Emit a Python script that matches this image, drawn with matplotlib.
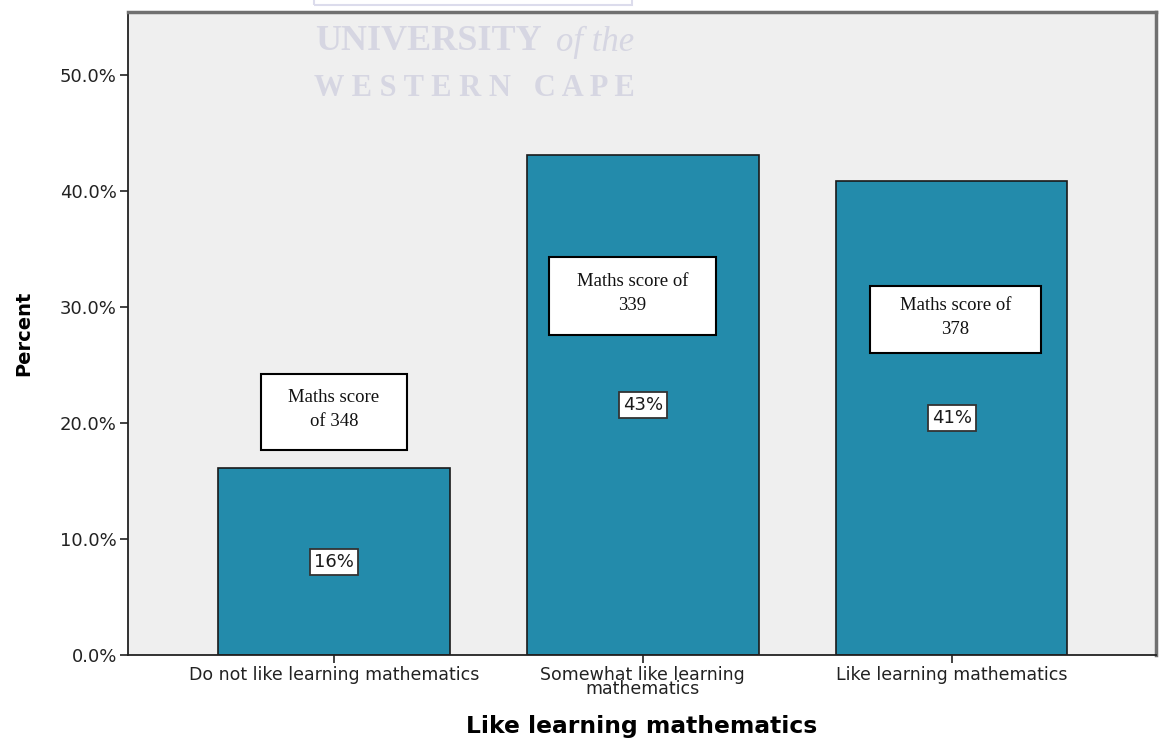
import matplotlib.pyplot as plt
from matplotlib.patches import Rectangle
import numpy as np

categories = ["Do not like learning mathematics", "Somewhat like learning\nmathematics", "Like learning mathematics"]
percents = [16.1, 43.1, 40.8]
pct_labels = ["16%", "43%", "41%"]
score_labels = ["Maths score\nof 348", "Maths score of\n339", "Maths score of\n378"]
score_pos = [(0.0, 20.95), (0.967, 30.95), (2.013, 28.9)]
yticks = [0, 10, 20, 30, 40, 50]

fig = plt.figure(figsize=(11.63, 7.39), dpi=100)
ax = fig.add_axes([128 / 1163, 1 - 655 / 739, 1028 / 1163, 643 / 739])
ax.set_facecolor("#efefef")

x = np.arange(len(categories))
ax.bar(x, percents, width=0.75, color="#238bab", edgecolor="#1a1a1a", linewidth=1.2, zorder=2)

ax.set_xlim(-0.667, 2.662)
ax.set_ylim(0, 55.4)
ax.set_yticks(yticks)
ax.set_yticklabels(["%.1f%%" % v for v in yticks], fontsize=13, color="#222222")
ax.set_xticks(x)
ax.set_xticklabels(categories, fontsize=12.5, color="#222222", linespacing=0.72)
ax.tick_params(axis="both", length=6, width=1.2, color="#222222", pad=2)

for s in ["top", "right"]:
    ax.spines[s].set_color("#707070")
    ax.spines[s].set_linewidth(2.5)
for s in ["left", "bottom"]:
    ax.spines[s].set_color("#222222")
    ax.spines[s].set_linewidth(1.3)

ax.set_ylabel("Percent", fontsize=14, fontweight="bold")
ax.yaxis.set_label_coords(-0.0924, 0.5)
ax.set_xlabel("Like learning mathematics", fontsize=16.8, fontweight="bold")
ax.xaxis.set_label_coords(0.5, -0.094)

# percentage labels in middle of bars
for xi, p, lab in zip(x, percents, pct_labels):
    ax.text(xi, p / 2, lab, ha="center", va="center", fontsize=13, zorder=4, color="#1a1a1a",
            bbox=dict(boxstyle="square,pad=0.22", fc="white", ec="#333333", lw=1.3))

# score annotation boxes
box_sizes = [(0.473, 6.55), (0.541, 6.7), (0.554, 5.7)]
for (bx, by), (bw, bh), lab in zip(score_pos, box_sizes, score_labels):
    ax.add_patch(Rectangle((bx - bw / 2, by - bh / 2), bw, bh, fc="white", ec="black", lw=1.5, zorder=3))
    ax.text(bx, by + 0.2, lab, ha="center", va="center", fontsize=13.5, family="Liberation Serif",
            linespacing=1.55, zorder=4, color="#111111")

# watermark
wm = "#d6d6e2"
fig.text(315 / 1163, 1 - 42 / 739, "UNIVERSITY", ha="left", va="center", fontsize=26,
         family="Liberation Serif", fontweight="bold", color=wm)
fig.text(634 / 1163, 1 - 42 / 739, "of the", ha="right", va="center", fontsize=25,
         family="Liberation Serif", style="italic", color=wm)
fig.text(474 / 1163, 1 - 89 / 739, "W E S T E R N   C A P E", ha="center", va="center", fontsize=22,
         family="Liberation Serif", fontweight="bold", color=wm)
fig.patches.append(Rectangle((314 / 1163, 1 - 5 / 739), 318 / 1163, 10 / 739, transform=fig.transFigure,
                             fc="none", ec="#dcdcec", lw=1.5))

fig.savefig("out.png", dpi=100)
